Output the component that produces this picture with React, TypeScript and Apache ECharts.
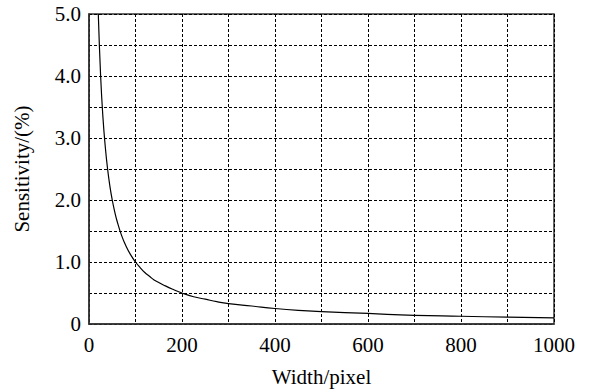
import React, { useEffect, useRef } from "react";
import * as echarts from "echarts";

const widthPx = [20, 25, 30, 35, 40, 45, 50, 55, 60, 70, 80, 90, 100, 110, 120, 130, 140, 150, 160, 180, 200, 225, 250, 275, 300, 350, 400, 450, 500, 600, 700, 800, 900, 1000];
const sensitivity = [5.0, 4.0, 3.33, 2.86, 2.5, 2.22, 2.0, 1.82, 1.67, 1.43, 1.25, 1.11, 1.0, 0.91, 0.83, 0.77, 0.71, 0.67, 0.63, 0.56, 0.5, 0.44, 0.4, 0.36, 0.33, 0.29, 0.25, 0.22, 0.2, 0.17, 0.14, 0.125, 0.11, 0.1];

const FONT = "'Liberation Serif', 'Times New Roman', 'DejaVu Serif', serif";

export default function App() {
  const ref = useRef<HTMLDivElement>(null);
  useEffect(() => {
    if (!ref.current) return;
    const chart = echarts.init(ref.current, undefined, { renderer: "svg" });
    const gridLine = { show: true, lineStyle: { color: "#000", width: 1, type: [3, 2] as any } };
    chart.setOption({
      animation: false,
      backgroundColor: "#fff",
      textStyle: { fontFamily: FONT },
      grid: { left: 89, right: 36, top: 14, bottom: 65, show: true, borderColor: "#333", borderWidth: 1.5, backgroundColor: "transparent" },
      xAxis: {
        type: "value",
        min: 0,
        max: 1000,
        interval: 100,
        name: "Width/pixel",
        nameLocation: "middle",
        nameGap: 42,
        nameTextStyle: { fontFamily: FONT, fontSize: 21, color: "#000" },
        axisLine: { show: true, lineStyle: { color: "#333", width: 1.5 } },
        axisTick: { show: false },
        axisLabel: {
          fontFamily: FONT,
          fontSize: 21,
          color: "#000",
          margin: 10,
          formatter: (v: number) => (v % 200 === 0 ? String(v) : ""),
        },
        splitLine: gridLine,
      },
      yAxis: {
        type: "value",
        min: 0,
        max: 5,
        interval: 0.5,
        name: "Sensitivity/(%)",
        nameLocation: "middle",
        nameGap: 57,
        nameTextStyle: { fontFamily: FONT, fontSize: 21, color: "#000" },
        axisLine: { show: true, lineStyle: { color: "#333", width: 1.5 } },
        axisTick: { show: false },
        axisLabel: {
          fontFamily: FONT,
          fontSize: 21,
          color: "#000",
          margin: 8,
          formatter: (v: number) => (v === 0 ? "0" : Math.abs(v - Math.round(v)) < 1e-6 ? v.toFixed(1) : ""),
        },
        splitLine: gridLine,
      },
      series: [
        {
          type: "line",
          data: widthPx.map((x, i) => [x, sensitivity[i]]),
          showSymbol: false,
          smooth: true,
          lineStyle: { color: "#000", width: 1.2 },
          clip: true,
        },
      ],
    });
    return () => chart.dispose();
  }, []);
  return <div ref={ref} style={{ width: 590, height: 392, position: "absolute", left: 0, top: 0 }} />;
}
